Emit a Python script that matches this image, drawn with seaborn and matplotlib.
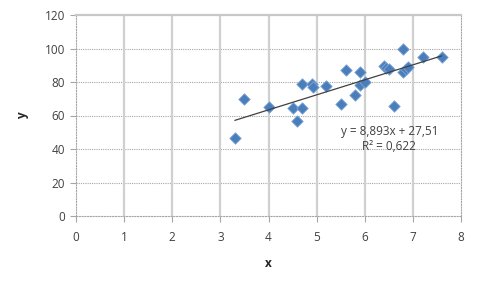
import numpy as np
import pandas as pd
import matplotlib
matplotlib.use("Agg")
import matplotlib.pyplot as plt
import seaborn as sns

x_vals = [3.3, 3.5, 4.0, 4.5, 4.6, 4.7, 4.7, 4.9, 4.92, 5.2, 5.5, 5.6, 5.8, 5.9, 5.9, 6.0,
          6.4, 6.45, 6.5, 6.6, 6.8, 6.8, 6.85, 6.9, 7.2, 7.6]
y_vals = [46.4, 70, 65, 64.5, 57, 64.3, 78.8, 78.8, 77.2, 77.6, 66.7, 87, 72.2, 86, 78.2, 80.2,
          89.6, 88.5, 87.5, 65.7, 99.7, 86.2, 87.5, 89, 95.1, 95.1]
equation_text = "y = 8,893x + 27,51"
r2_text = "R² = 0,622"
x_ticks = [0, 1, 2, 3, 4, 5, 6, 7, 8]
y_ticks = [0, 20, 40, 60, 80, 100, 120]

df = pd.DataFrame({"x": x_vals, "y": y_vals})

sns.set_theme(style="white")
plt.rcParams["font.family"] = ["Open Sans", "DejaVu Sans"]

fig = plt.figure(figsize=(4.8, 2.88), dpi=100)
ax = fig.add_axes([76/480, 1 - 216/288, (461-76)/480, (216-15)/288])

sns.regplot(data=df, x="x", y="y", ax=ax, ci=None, truncate=True, marker="D",
            scatter_kws=dict(s=34, color="#4A7EBB", edgecolor="#7EA6D8", linewidths=0.6,
                             alpha=1, zorder=3),
            line_kws=dict(color="#404040", lw=0.9, zorder=4))

ax.set_xlim(0, 8)
ax.set_ylim(0, 120)
ax.set_xticks(x_ticks)
ax.set_yticks(y_ticks)
ax.tick_params(labelsize=8.5, length=4, width=0.8, direction="out", bottom=True, left=True,
               color="#A6A6A6", labelcolor="#404040")
ax.tick_params(axis="x", pad=7)
ax.tick_params(axis="y", pad=4)

for y in y_ticks[1:-1]:
    ax.axhline(y, color="#A6A6A6", lw=0.8, ls=(0, (1, 1)), zorder=1)
for x in x_ticks[1:-1]:
    ax.axvline(x, color="#D0D0D0", lw=1.6, zorder=1)

for side in ["left", "bottom", "right"]:
    ax.spines[side].set_color("#A6A6A6")
    ax.spines[side].set_linestyle((0, (1, 1.5)))
    ax.spines[side].set_linewidth(0.8)
ax.spines["top"].set_color("#C8C8C8")
ax.spines["top"].set_linewidth(1.6)

ax.set_xlabel("x", fontsize=8.5, fontweight="bold", color="#262626", labelpad=9)
ax.set_ylabel("y", fontsize=8.5, fontweight="bold", color="#262626", labelpad=11)

ax.text(6.51, 50.7, equation_text, ha="center", va="center", fontsize=8.5, color="#404040")
ax.text(6.51, 41.2, r2_text, ha="center", va="center", fontsize=8.5, color="#404040")

fig.savefig("out.png", dpi=100, facecolor="white")
